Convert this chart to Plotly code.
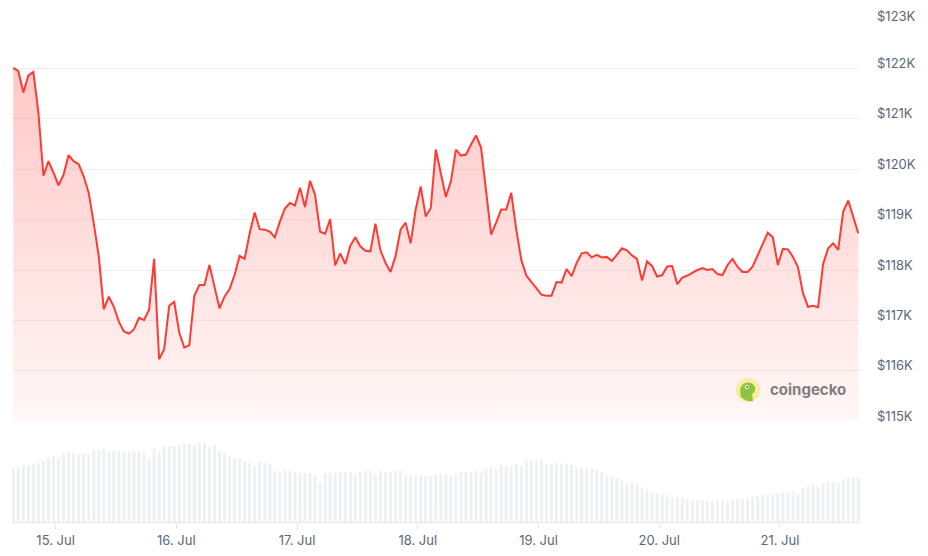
import pandas as pd
import plotly.graph_objects as go

# Hourly BTC price (USD), 14 Jul 15:35 -> 21 Jul 15:35
prices = [
    122010, 121950, 121520, 121860, 121930, 121120, 119870, 120160, 119930, 119680,
    119890, 120280, 120160, 120100, 119860, 119530, 118930, 118270, 117220, 117470,
    117270, 116970, 116780, 116740, 116820, 117050, 117010, 117210, 118220, 116230,
    116430, 117290, 117370, 116760, 116460, 116510, 117490, 117700, 117700, 118100,
    117670, 117240, 117470, 117620, 117900, 118280, 118220, 118730, 119140, 118810,
    118800, 118760, 118650, 118960, 119220, 119330, 119280, 119630, 119250, 119770,
    119490, 118760, 118720, 119010, 118090, 118330, 118120, 118480, 118650, 118470,
    118380, 118370, 118920, 118390, 118140, 117960, 118280, 118800, 118940, 118530,
    119200, 119660, 119060, 119230, 120390, 119930, 119450, 119760, 120390, 120270,
    120290, 120490, 120670, 120430, 119560, 118700, 118940, 119200, 119200, 119530,
    118800, 118200, 117890, 117770, 117640, 117510, 117490, 117490, 117760, 117750,
    118020, 117880, 118140, 118330, 118350, 118250, 118300, 118250, 118260, 118180,
    118300, 118430, 118390, 118290, 118220, 117790, 118170, 118080, 117870, 117900,
    118070, 118080, 117720, 117850, 117890, 117950, 118000, 118040, 118000, 118020,
    117920, 117900, 118100, 118220, 118060, 117960, 117960, 118070, 118300, 118520,
    118740, 118650, 118100, 118420, 118410, 118260, 118060, 117540, 117270, 117290,
    117260, 118120, 118430, 118530, 118400, 119160, 119380, 119050, 118730,
]

# Trading volume (relative units, bar heights)
volumes = [
    160, 163, 170, 170, 173, 177, 183, 193, 197, 190,
    205, 208, 208, 203, 203, 203, 215, 218, 221, 210,
    214, 211, 211, 211, 211, 211, 204, 190, 220, 211,
    227, 227, 227, 231, 234, 234, 230, 237, 237, 223,
    231, 211, 207, 197, 193, 190, 183, 177, 167, 180,
    177, 175, 153, 150, 157, 153, 150, 147, 145, 147,
    139, 120, 147, 147, 149, 150, 150, 150, 140, 150,
    153, 153, 143, 153, 150, 147, 153, 153, 140, 140,
    140, 137, 137, 137, 143, 143, 143, 137, 147,
    150, 150, 150, 153, 147, 157, 163, 157, 170, 170,
    167, 173, 167, 184, 184, 184, 184, 173, 173, 177,
    175, 173, 170, 163, 163, 160, 160, 155, 150, 140,
    133, 130, 123, 113, 120, 113, 103, 97, 90, 87,
    85, 80, 73, 73, 73, 69, 65, 65, 65, 62,
    62, 65, 65, 62, 65, 68, 69, 69, 75, 77,
    80, 83, 83, 85, 89, 87, 91, 85, 102, 105,
    112, 107, 115, 120, 120, 115, 127, 133, 133, 133,
]

start_time = "2025-07-14 15:35"
price_ticks = [115000, 116000, 117000, 118000, 119000, 120000, 121000, 122000, 123000]
price_tick_labels = ["$115K", "$116K", "$117K", "$118K", "$119K", "$120K", "$121K", "$122K", "$123K"]
day_ticks = ["2025-07-15", "2025-07-16", "2025-07-17", "2025-07-18", "2025-07-19", "2025-07-20", "2025-07-21"]

times = pd.date_range(start_time, periods=len(prices), freq="h")

# page body has an 8px margin, so the figure is a bit smaller than the window
OFF = 8
W, H = 920, 548
ML, MR, MT, MB = 4, 68, 10, 34
PW, PH = W - ML - MR, H - MT - MB


def px(x):  # screen x -> paper
    return (x - OFF - ML) / PW


def py(y):  # screen y -> paper
    return (H + OFF - MB - y) / PH


fig = go.Figure()

# baseline for the gradient fill
fig.add_trace(go.Scatter(
    x=times, y=[price_ticks[0]] * len(prices), mode="lines",
    line=dict(width=0, color="rgba(0,0,0,0)"), hoverinfo="skip", showlegend=False,
    xaxis="x", yaxis="y",
))
fig.add_trace(go.Scatter(
    x=times, y=prices, mode="lines",
    line=dict(color="#ff3a33", width=2),
    fill="tonexty",
    fillgradient=dict(
        type="vertical", start=price_ticks[0], stop=max(prices),
        colorscale=[[0, "rgba(255,58,51,0.04)"], [1, "rgba(255,58,51,0.28)"]],
    ),
    showlegend=False, xaxis="x", yaxis="y",
))
fig.add_trace(go.Bar(
    x=times, y=volumes, marker=dict(color="#eef0f3", line=dict(width=0)),
    width=0.6 * 3600 * 1000, showlegend=False, xaxis="x", yaxis="y2",
))

t0 = times[0] - pd.Timedelta(minutes=15)
t1 = times[-1] + pd.Timedelta(minutes=20)

fig.update_layout(
    width=W, height=H,
    margin=dict(l=ML, r=MR, t=MT, b=MB, autoexpand=False),
    paper_bgcolor="white", plot_bgcolor="white",
    font=dict(family="Inter, Roboto, sans-serif", color="#5d6678", size=13),
    xaxis=dict(
        type="date", range=[t0, t1], anchor="y2", automargin=False,
        tickvals=day_ticks, tickformat="%-d. %b",
        ticks="outside", ticklen=6, tickcolor="#e6e8ec", tickwidth=1,
        showgrid=False, showline=True, linecolor="#e6e8ec", linewidth=1,
        tickfont=dict(size=13, color="#5d6678"), zeroline=False,
    ),
    yaxis=dict(
        domain=[0.2, 1], range=[115000, 123000], side="right", anchor="x",
        automargin=False, tickvals=price_ticks, showticklabels=False,
        showgrid=True, gridcolor="#eef0f3", gridwidth=1, zeroline=False,
        showline=False,
    ),
    yaxis2=dict(
        domain=[0, 0.2], range=[0, 302], anchor="x", automargin=False,
        showgrid=False, showticklabels=False, zeroline=False, showline=False,
    ),
    bargap=0.4,
)

# price labels sit just above their grid lines, right of the plot
for val, lab in zip(price_ticks, price_tick_labels):
    fig.add_annotation(x=1, y=val, xref="paper", yref="y", text=lab,
                       showarrow=False, xanchor="left", yanchor="middle",
                       xshift=16, yshift=5.5 if val < price_ticks[-1] else 2.5,
                       borderpad=0,
                       font=dict(size=13, color="#5d6678"))

# coingecko watermark
fig.add_shape(type="circle", xref="paper", yref="paper",
              x0=px(736), x1=px(760), y0=py(402), y1=py(378),
              fillcolor="#fbeaa0", line=dict(width=0), layer="above")
fig.add_shape(type="path", xref="paper", yref="paper",
              path=(f"M {px(741)},{py(397)} "
                    f"Q {px(738)},{py(386)} {px(745)},{py(383)} "
                    f"Q {px(752)},{py(381)} {px(755)},{py(387)} "
                    f"Q {px(756)},{py(392)} {px(752)},{py(394)} "
                    f"L {px(753)},{py(401)} "
                    f"Q {px(746)},{py(402)} {px(741)},{py(397)} Z"),
              fillcolor="#8cc63f", line=dict(width=0), layer="above")
fig.add_shape(type="circle", xref="paper", yref="paper",
              x0=px(745), x1=px(749), y0=py(389), y1=py(385),
              fillcolor="#ffffff", line=dict(width=0), layer="above")
fig.add_shape(type="circle", xref="paper", yref="paper",
              x0=px(746.3), x1=px(748.3), y0=py(388), y1=py(386),
              fillcolor="#555555", line=dict(width=0), layer="above")
fig.add_annotation(x=px(768), y=py(389), xref="paper", yref="paper",
                   text="<b>coingecko</b>", showarrow=False,
                   xanchor="left", yanchor="middle",
                   font=dict(size=15, color="#7f7f7f", family="Inter, Roboto, sans-serif"))

fig.write_html("out.html")
